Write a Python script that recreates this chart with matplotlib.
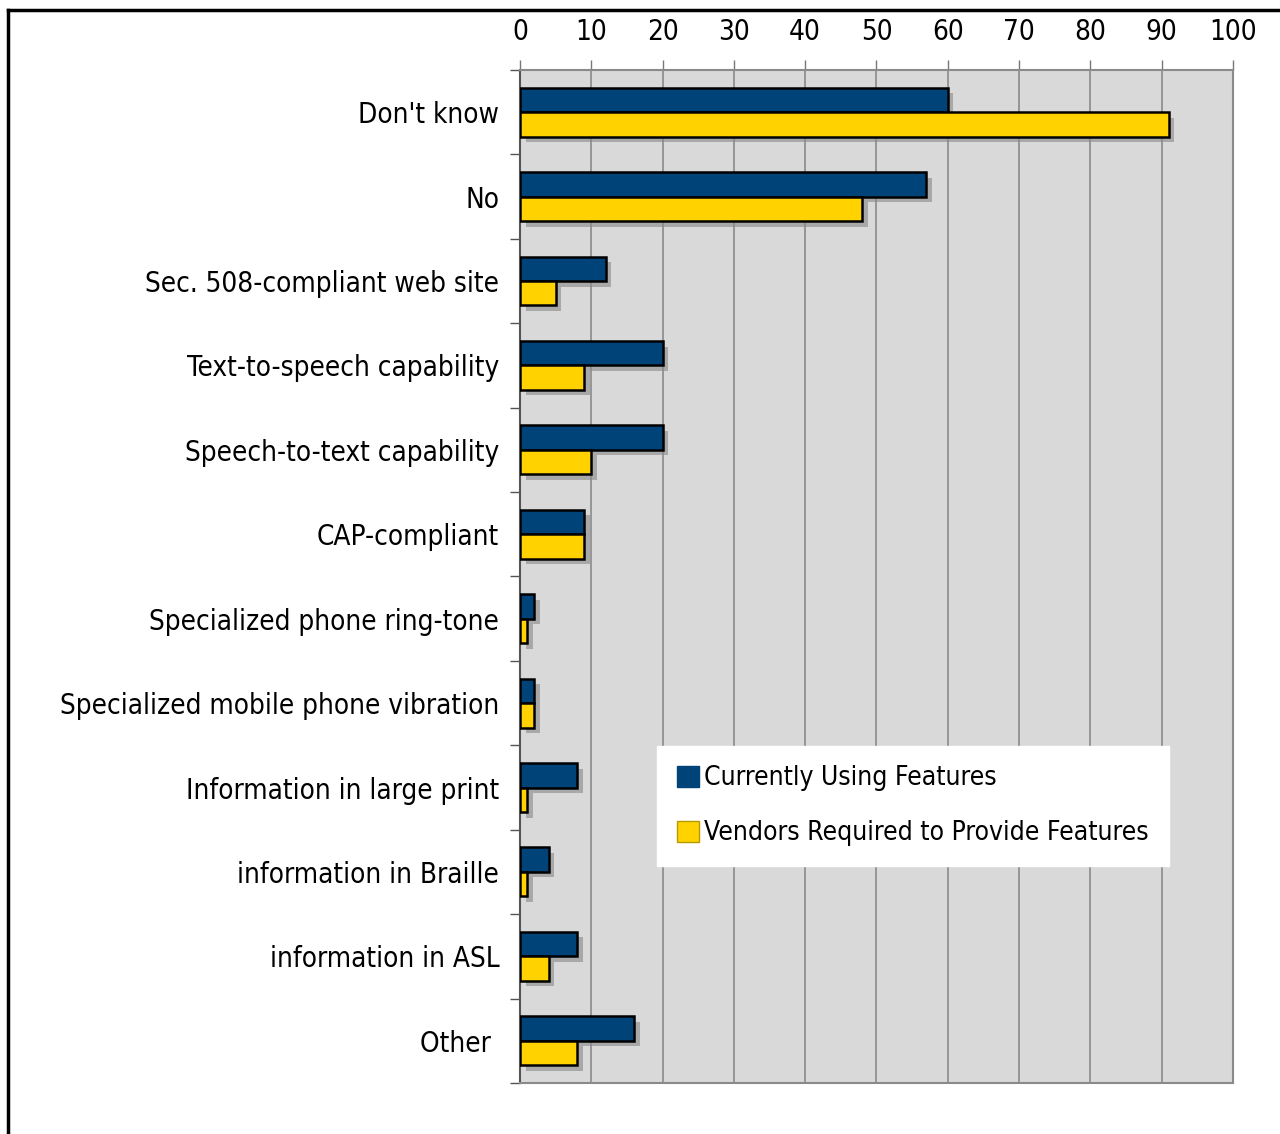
import matplotlib
matplotlib.use("Agg")
import matplotlib.pyplot as plt
import matplotlib.patheffects as pe
from matplotlib.lines import Line2D
from matplotlib.patches import Patch
import numpy as np

# ------------------------------
# accessibility features survey
# ------------------------------

categories = [
    "Don't know",
    "No",
    "Sec. 508-compliant web site",
    "Text-to-speech capability",
    "Speech-to-text capability",
    "CAP-compliant",
    "Specialized phone ring-tone",
    "Specialized mobile phone vibration",
    "Information in large print",
    "information in Braille",
    "information in ASL",
    "Other ",
]
currently_using = [60, 57, 12, 20, 20, 9, 2, 2, 8, 4, 8, 16]
vendors_required = [91, 48, 5, 9, 10, 9, 1, 2, 1, 1, 4, 8]
x_ticks = [0, 10, 20, 30, 40, 50, 60, 70, 80, 90, 100]

series_names = ["Currently Using Features", "Vendors Required to Provide Features"]
blue = "#004379"
yellow = "#ffd200"

plt.rcParams["font.family"] = ["DejaVu Sans"]
plt.rcParams["font.stretch"] = "condensed"

fig = plt.figure(figsize=(12.8, 11.34), dpi=100)
ax = fig.add_axes([0.40625, 0.045, 0.557, 0.8933])
ax.set_facecolor("#d9d9d9")

y = np.arange(len(categories))
h = 0.29
shadow = [pe.SimplePatchShadow(offset=(4, -4), shadow_rgbFace="#888888", alpha=0.6), pe.Normal()]
b1 = ax.barh(y - h / 2, currently_using, height=h, color=blue,
             edgecolor="black", linewidth=1.8, zorder=3)
b2 = ax.barh(y + h / 2, vendors_required, height=h, color=yellow,
             edgecolor="black", linewidth=1.8, zorder=3)
for bar in list(b1) + list(b2):
    bar.set_path_effects(shadow)

ax.set_xlim(0, 100)
ax.set_ylim(len(categories) - 0.5, -0.5)

ax.xaxis.tick_top()
ax.set_xticks(x_ticks)
ax.set_xticklabels([str(t) for t in x_ticks], fontsize=20)
ax.tick_params(axis="x", direction="out", length=7, width=1, color="#777777", pad=10)
ax.grid(axis="x", color="#8a8a8a", linewidth=1.2, zorder=1)

ax.set_yticks(y)
ax.set_yticklabels(categories, fontsize=20)
ax.tick_params(axis="y", which="major", length=0, pad=15)
ax.set_yticks(np.arange(len(categories) + 1) - 0.5, minor=True)
ax.tick_params(axis="y", which="minor", direction="out", length=7, width=1, color="#555555")

for side in ["top", "right", "bottom"]:
    ax.spines[side].set_color("#8a8a8a")
    ax.spines[side].set_linewidth(1.5)
ax.spines["left"].set_color("#555555")
ax.spines["left"].set_linewidth(1.5)

handles = [Patch(facecolor=blue, edgecolor=blue),
           Patch(facecolor=yellow, edgecolor="#b89a00")]
leg = ax.legend(handles, series_names, loc="upper left", bbox_to_anchor=(0.192, 0.333),
                fontsize=19, frameon=True, fancybox=False, framealpha=1,
                handlelength=0.85, handleheight=0.85, handletextpad=0.2,
                labelspacing=1.1, borderpad=0.75, borderaxespad=0)
leg.get_frame().set_edgecolor("white")
leg.set_zorder(5)

# outer frame lines
fig.add_artist(Line2D([8 / 1280, 1], [1 - 10 / 1134, 1 - 10 / 1134], color="black", linewidth=2.5))
fig.add_artist(Line2D([8 / 1280, 8 / 1280], [0, 1 - 10 / 1134], color="black", linewidth=2.5))

fig.savefig("out.png", dpi=100, facecolor="white")
